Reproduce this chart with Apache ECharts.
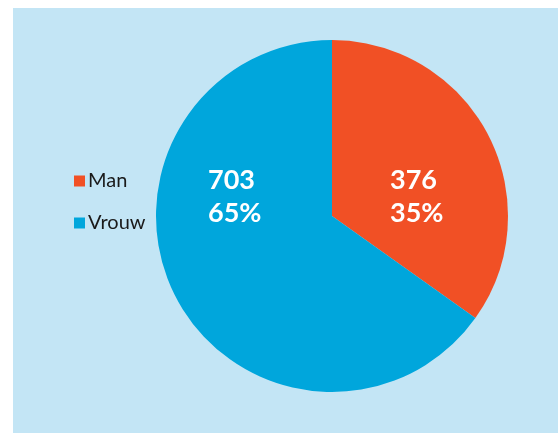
<!DOCTYPE html>
<html>
<head>
<meta charset="utf-8">
<script src="https://cdn.jsdelivr.net/npm/echarts@6/dist/echarts.min.js"></script>
<style>
  html, body { margin: 0; padding: 0; background: #ffffff; }
  #chart { width: 558px; height: 433px; }
</style>
</head>
<body>
<div id="chart"></div>
<script>
// Gender split
const categories = ['Man', 'Vrouw'];
const counts = [376, 703];
const colors = ['#f15025', '#00a6dc'];

const total = counts.reduce((a, b) => a + b, 0);
const data = categories.map((name, i) => ({
  name: name,
  value: counts[i],
  itemStyle: { color: colors[i] }
}));

// Fixed anchor for each slice's label block (left edge, vertical centre)
const labelAnchors = { Man: [390, 197], Vrouw: [208, 197] };

const chart = echarts.init(document.getElementById('chart'), null, { renderer: 'canvas' });
chart.setOption({
  animation: false,
  backgroundColor: '#ffffff',
  graphic: [{
    type: 'rect',
    shape: { x: 13, y: 8, width: 545, height: 425 },
    style: { fill: '#c3e5f5' },
    z: -10
  }],
  legend: {
    orient: 'vertical',
    left: 69,
    top: 166,
    itemWidth: 11,
    itemHeight: 11,
    itemGap: 22,
    icon: 'rect',
    textStyle: { fontFamily: 'Lato', fontSize: 20, color: '#1a1a1a', padding: [0, 0, 0, -2] },
    data: categories
  },
  series: [{
    type: 'pie',
    center: [332, 216],
    radius: 176,
    startAngle: 90,
    clockwise: true,
    silent: true,
    data: data,
    label: {
      show: true,
      position: 'inside',
      formatter: p => p.value + '\n' + Math.round(p.value / total * 100) + '%',
      color: '#ffffff',
      fontFamily: 'Lato',
      fontWeight: 'bold',
      fontSize: 27,
      lineHeight: 33,
      align: 'left'
    },
    labelLine: { show: false },
    labelLayout: params => {
      const a = labelAnchors[categories[params.dataIndex]];
      return { x: a[0], y: a[1], align: 'left', verticalAlign: 'middle' };
    }
  }]
});
</script>
</body>
</html>
